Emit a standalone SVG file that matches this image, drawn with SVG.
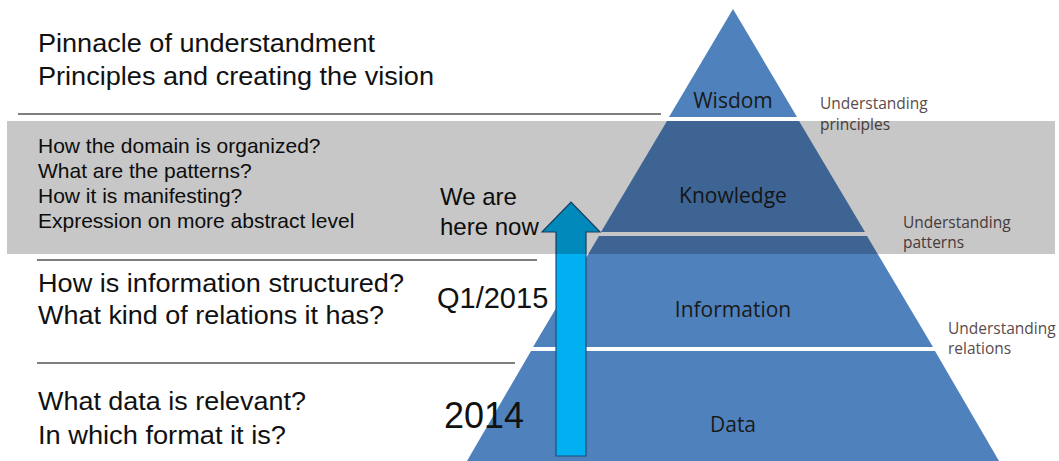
<svg xmlns="http://www.w3.org/2000/svg" width="1059" height="461" viewBox="0 0 1059 461">
<style>
.t{font-family:"Liberation Sans",Arial,sans-serif;fill:#111}
.big{font-size:25px}
.mid{font-size:21px}
.lvl{font-family:"Open Sans","Noto Sans",sans-serif;font-size:21px;fill:#1a1a1a;text-anchor:middle}
.lab{font-family:"Open Sans","Noto Sans",sans-serif;font-size:15.5px;fill:#5b4b4b}
.sep{stroke:#7f7f7f;stroke-width:2}
.band{fill:#4f81bd}
</style>
<rect width="1059" height="461" fill="#fff"/>
<g id="pyramid">
<g id="wisdom"><polygon class="band" points="733,9 797,117 669,117"/><text class="lvl" x="733" y="108">Wisdom</text></g>
<g id="knowledge"><polygon class="band" points="667,121 799,121 865,232 601,232"/><text class="lvl" x="733" y="203">Knowledge</text></g>
<g id="information"><polygon class="band" points="599,236 867,236 933,347 533,347"/><text class="lvl" x="733" y="317">Information</text></g>
<g id="data"><polygon class="band" points="531,351 935,351 999,461 467,461"/><text class="lvl" x="733" y="432">Data</text></g>
</g>
<g id="connectors">
<line class="sep" x1="18" y1="114" x2="661" y2="114"/>
<line class="sep" x1="37" y1="260" x2="537" y2="260"/>
<line class="sep" x1="37" y1="363" x2="515" y2="363"/>
</g>
<g id="arrow">
<polygon points="556,456 586,456 586,232 600,232 571,202 542,232 556,232" fill="#00b0f0" stroke="#1f4e79" stroke-width="1.2"/>
</g>
<g id="left-text">
<text class="t big" x="38" y="52" textLength="337" lengthAdjust="spacingAndGlyphs">Pinnacle of understandment</text>
<text class="t big" x="38" y="85" textLength="396" lengthAdjust="spacingAndGlyphs">Principles and creating the vision</text>
<text class="t mid" x="38" y="153">How the domain is organized?</text>
<text class="t mid" x="38" y="178">What are the patterns?</text>
<text class="t mid" x="38" y="203">How it is manifesting?</text>
<text class="t mid" x="38" y="228">Expression on more abstract level</text>
<text class="t big" x="38" y="292" textLength="366" lengthAdjust="spacingAndGlyphs">How is information structured?</text>
<text class="t big" x="38" y="324" textLength="346" lengthAdjust="spacingAndGlyphs">What kind of relations it has?</text>
<text class="t big" x="38" y="410" textLength="268" lengthAdjust="spacingAndGlyphs">What data is relevant?</text>
<text class="t big" x="38" y="444" textLength="248" lengthAdjust="spacingAndGlyphs">In which format it is?</text>
</g>
<g id="timeline-text">
<text class="t" style="font-size:24px" x="440" y="205">We are</text>
<text class="t" style="font-size:24px" x="440" y="235">here now</text>
<text class="t" style="font-size:29px" x="437" y="308">Q1/2015</text>
<text class="t" style="font-size:36px" x="444" y="428">2014</text>
</g>
<g id="right-labels">
<text class="lab" x="820" y="109">Understanding</text>
<text class="lab" x="820" y="130">principles</text>
<text class="lab" x="903" y="228">Understanding</text>
<text class="lab" x="903" y="248">patterns</text>
<text class="lab" x="948" y="334">Understanding</text>
<text class="lab" x="948" y="354">relations</text>
</g>
<rect id="focus-band" x="7" y="121" width="1048" height="133" fill="#000" fill-opacity="0.22"/>
</svg>
